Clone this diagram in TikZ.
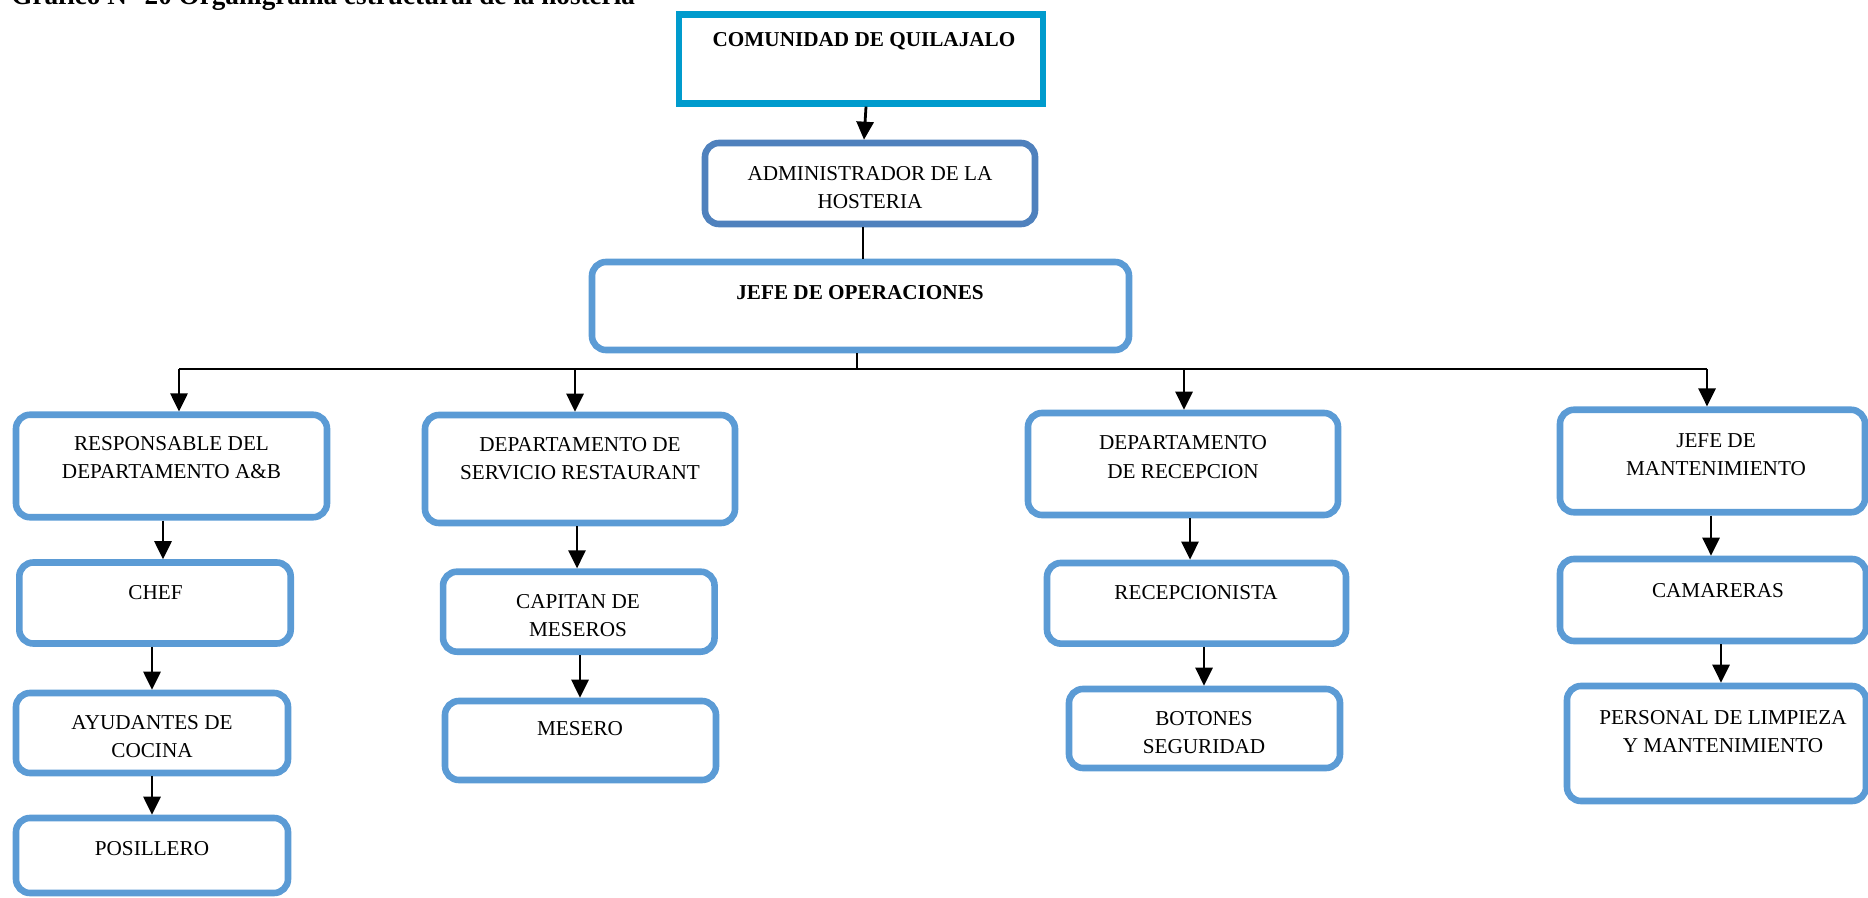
\documentclass[tikz,border=0pt]{standalone}
\usepackage{fontspec}
\setmainfont{Liberation Serif}
\usetikzlibrary{arrows.meta}
\definecolor{boxblue}{RGB}{91,155,213}
\definecolor{admblue}{RGB}{79,129,189}
\definecolor{topblue}{RGB}{0,155,205}
\tikzset{
  orgbox/.style={draw=boxblue, line width=3.3pt, rounded corners=7pt, fill=white, inner sep=0pt},
  admbox/.style={draw=admblue, line width=3.3pt, rounded corners=7pt, fill=white, inner sep=0pt},
  topbox/.style={draw=topblue, line width=3.4pt, fill=white, inner sep=0pt},
  txt/.style={inner sep=0pt, anchor=base, align=center, font=\fontsize{10.6pt}{14pt}\selectfont},
  btxt/.style={txt, font=\bfseries\fontsize{10.6pt}{14pt}\selectfont},
  arr/.style={line width=1.4pt, -{Triangle[width=8.5pt,length=9pt]}},
  lin/.style={line width=1pt}
}
\begin{document}
\begin{tikzpicture}[x=0.5pt,y=-0.5pt]
\useasboundingbox (0,0) rectangle (1868,898);

% title (cut at top)
\node[inner sep=0pt, anchor=base west, font=\bfseries\fontsize{13.6pt}{15pt}\selectfont] (title) at (11,5) {Gráfico N° 20 Organigrama estructural de la hostería};

% boxes
\node[topbox, minimum width=182pt, minimum height=44.25pt] (top) at (861,59) {};
\node[admbox, minimum width=165pt, minimum height=40.5pt] (admin) at (870,183.5) {};
\node[orgbox, minimum width=268.5pt, minimum height=44pt] (jefe) at (860.5,306) {};

\node[orgbox, minimum width=155.5pt, minimum height=51.25pt] (resp) at (171.5,466) {};
\node[orgbox, minimum width=155pt, minimum height=54pt] (serv) at (580,469) {};
\node[orgbox, minimum width=155pt, minimum height=51pt] (recep) at (1183,464) {};
\node[orgbox, minimum width=152.5pt, minimum height=51.25pt] (mant) at (1712.5,461) {};

\node[orgbox, minimum width=135.7pt, minimum height=40.5pt] (chef) at (155,603) {};
\node[orgbox, minimum width=135.75pt, minimum height=40pt] (cap) at (578.8,611.7) {};
\node[orgbox, minimum width=149.5pt, minimum height=40.35pt] (recepc) at (1196.5,603.3) {};
\node[orgbox, minimum width=153pt, minimum height=41pt] (cam) at (1713,600) {};

\node[orgbox, minimum width=136pt, minimum height=40pt] (ayud) at (152,733) {};
\node[orgbox, minimum width=135.5pt, minimum height=39.5pt] (mes) at (580.5,740.5) {};
\node[orgbox, minimum width=135.5pt, minimum height=39.5pt] (bot) at (1204.5,728.5) {};
\node[orgbox, minimum width=149.5pt, minimum height=57.5pt] (pers) at (1716.5,743.5) {};

\node[orgbox, minimum width=136pt, minimum height=37.5pt] (pos) at (152,855.5) {};

% texts (for two-line texts the base anchor is the last line)
\node[btxt] (ttop) at (864,46.7) {COMUNIDAD DE QUILAJALO};
\node[txt] (tadmin) at (870,209) {ADMINISTRADOR DE LA\\HOSTERIA};
\node[btxt] (tjefe) at (860,300) {JEFE DE OPERACIONES};
\node[txt] (tresp) at (171.5,479) {RESPONSABLE DEL\\DEPARTAMENTO A\&B};
\node[txt] (tserv) at (580,480) {DEPARTAMENTO DE\\SERVICIO RESTAURANT};
\node[txt] (trecep) at (1183,478) {DEPARTAMENTO\\DE RECEPCION};
\node[txt] (tmant) at (1716,475) {JEFE DE\\MANTENIMIENTO};
\node[txt] (tchef) at (155.5,599) {CHEF};
\node[txt] (tcap) at (578,636) {CAPITAN DE\\MESEROS};
\node[txt] (trecepc) at (1196,599) {RECEPCIONISTA};
\node[txt] (tcam) at (1718,597) {CAMARERAS};
\node[txt] (tayud) at (152,757) {AYUDANTES DE\\COCINA};
\node[txt] (tmes) at (580,735) {MESERO};
\node[txt] (tbot) at (1204,753) {BOTONES\\SEGURIDAD};
\node[txt] (tpers) at (1723,752) {PERSONAL DE LIMPIEZA\\Y MANTENIMIENTO};
\node[txt] (tpos) at (152,855) {POSILLERO};

% connector x positions
\coordinate (xa) at (866,0);
\coordinate (xb) at (864,0);
\coordinate (xc) at (863,0);
\coordinate (xd) at (857,0);
\coordinate (bus1) at (179,369);
\coordinate (bus2) at (575,369);
\coordinate (bus3) at (1184,369);
\coordinate (bus4) at (1707,369);
\coordinate (x1) at (163,0);
\coordinate (x2) at (152,0);
\coordinate (x3) at (577,0);
\coordinate (x4) at (580,0);
\coordinate (x5) at (1190,0);
\coordinate (x6) at (1204,0);
\coordinate (x7) at (1711,0);
\coordinate (x8) at (1721,0);

% connectors
\draw[arr] (xa |- top.south) -- (xb |- admin.north);
\draw[lin] (xc |- admin.south) -- (xc |- jefe.north);
\draw[lin] (xd |- jefe.south) -- (xd |- bus1);
\draw[lin] (bus1) -- (bus4);
\draw[arr] (bus1) -- (bus1 |- resp.north);
\draw[arr] (bus2) -- (bus2 |- serv.north);
\draw[arr] (bus3) -- (bus3 |- recep.north);
\draw[arr] (bus4) -- (bus4 |- mant.north);

\draw[arr] (x1 |- resp.south) -- (x1 |- chef.north);
\draw[arr] (x2 |- chef.south) -- (x2 |- ayud.north);
\draw[arr] (x2 |- ayud.south) -- (x2 |- pos.north);
\draw[arr] (x3 |- serv.south) -- (x3 |- cap.north);
\draw[arr] (x4 |- cap.south) -- (x4 |- mes.north);
\draw[arr] (x5 |- recep.south) -- (x5 |- recepc.north);
\draw[arr] (x6 |- recepc.south) -- (x6 |- bot.north);
\draw[arr] (x7 |- mant.south) -- (x7 |- cam.north);
\draw[arr] (x8 |- cam.south) -- (x8 |- pers.north);
\end{tikzpicture}
\end{document}
